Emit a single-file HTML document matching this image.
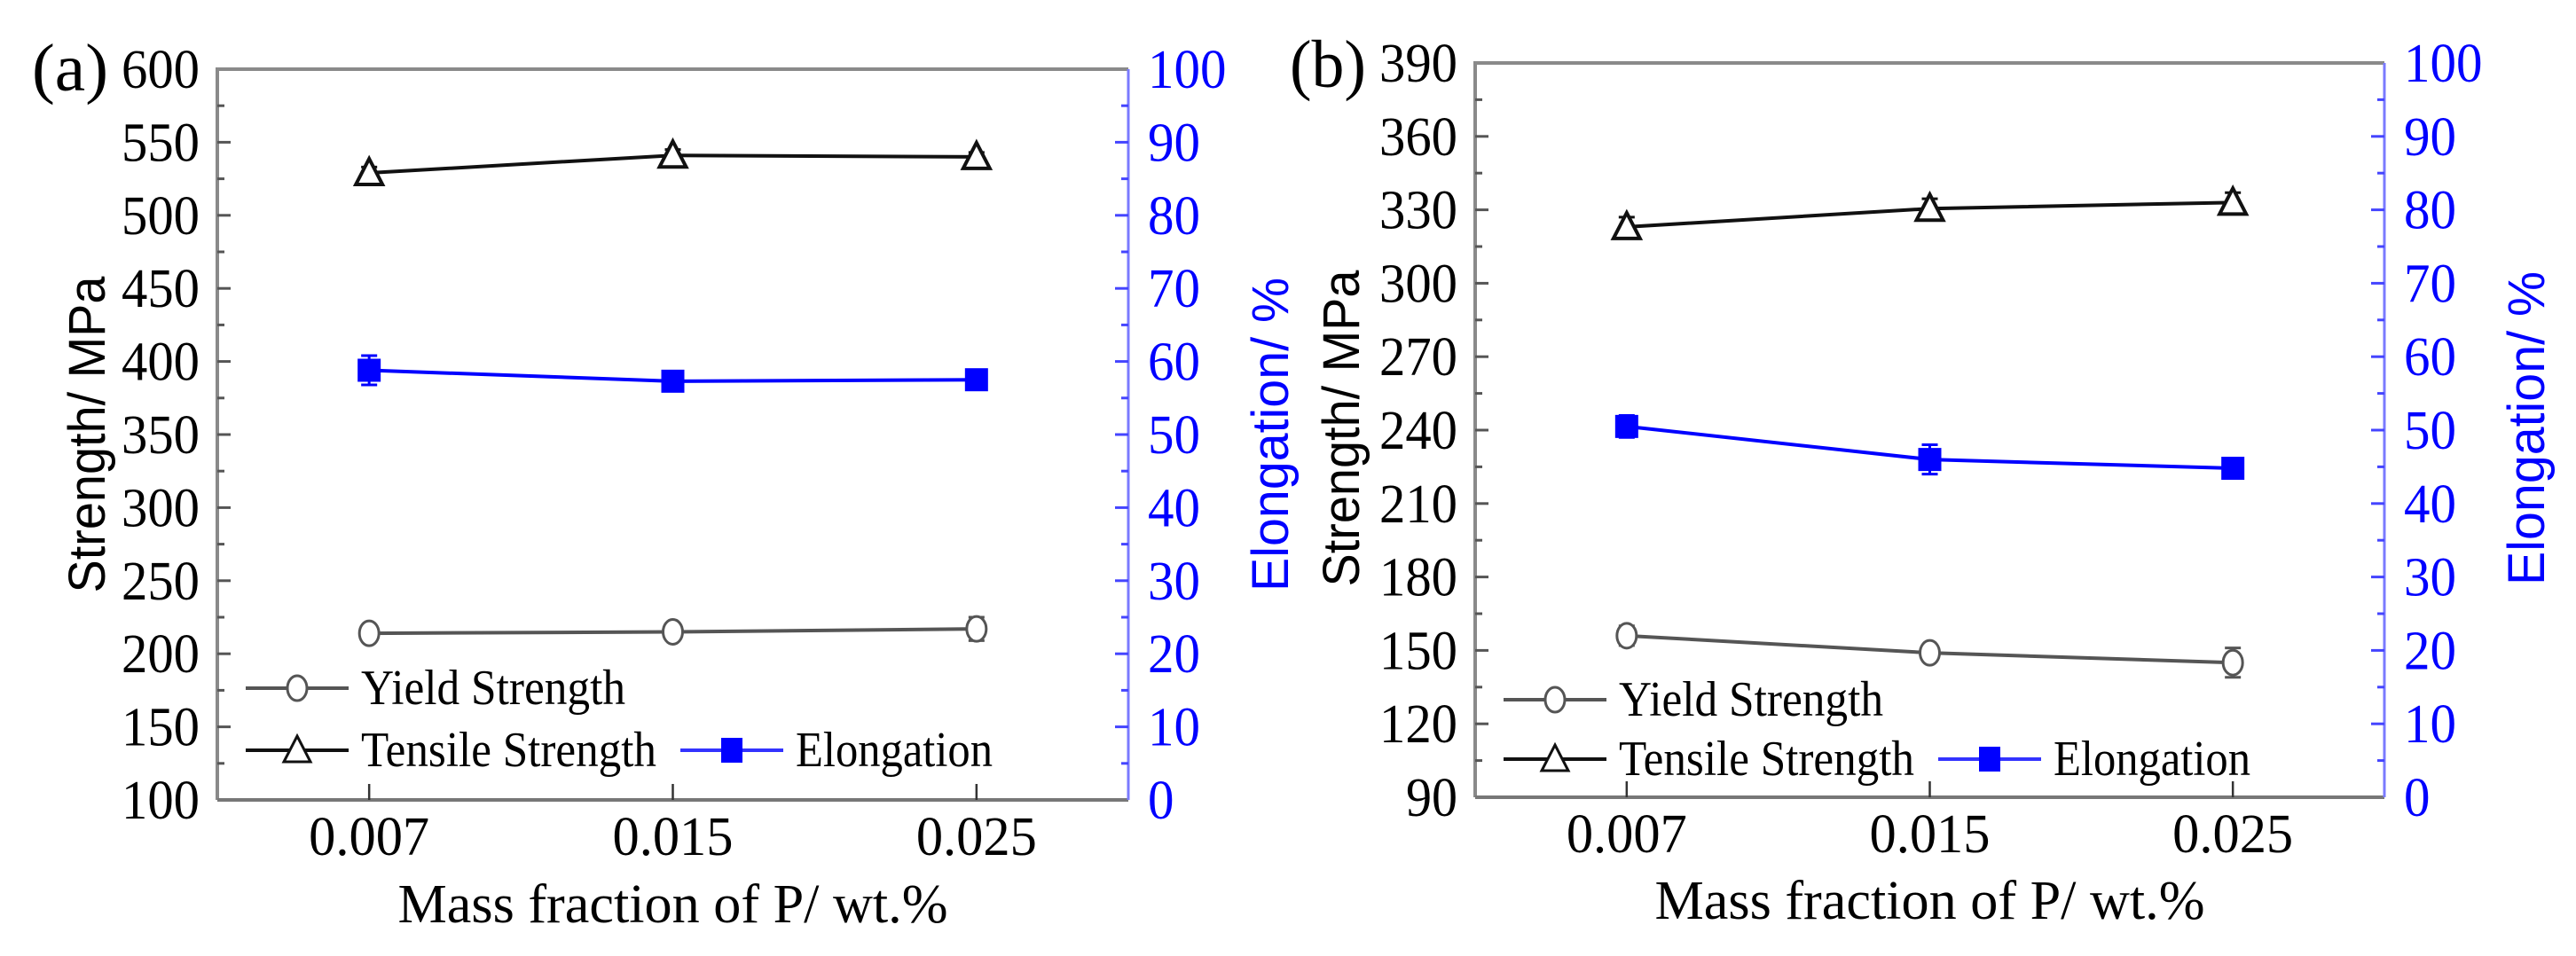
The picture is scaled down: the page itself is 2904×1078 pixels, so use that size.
<!DOCTYPE html>
<html><head><meta charset="utf-8"><style>
html,body{margin:0;padding:0;background:#fff}
svg{display:block}
text{font-family:"Liberation Serif",serif}
text.sans{font-family:"Liberation Sans",sans-serif}
</style></head><body>
<svg id="chart" width="2904" height="1078" viewBox="0 0 2904 1078" xmlns="http://www.w3.org/2000/svg"></svg>
<script>
const categories = ["0.007","0.015","0.025"];
// panel a
const aYield = [214, 215, 217];
const aYieldErr = [3, 3, 8];
const aTensile = [529, 541, 540];
const aTensileErr = [4, 4, 3];
const aElong = [58.8, 57.3, 57.5];
const aElongErr = [2, 0.5, 0.5];
const aLeftTicks = [100,150,200,250,300,350,400,450,500,550,600];
// panel b
const bYield = [156, 149, 145];
const bYieldErr = [4, 3, 6];
const bTensile = [323, 330.5, 333];
const bTensileErr = [4, 4, 4];
const bElong = [50.5, 46, 44.8];
const bElongErr = [1.5, 2, 1];
const bLeftTicks = [90,120,150,180,210,240,270,300,330,360,390];
const rightTicks = [0,10,20,30,40,50,60,70,80,90,100];

const NS = "http://www.w3.org/2000/svg";
const svg = document.getElementById("chart");
function mk(tag, attrs, parent){
  const e = document.createElementNS(NS, tag);
  for (const k in attrs) e.setAttribute(k, attrs[k]);
  (parent||svg).appendChild(e);
  return e;
}

function panel(cfg){
  const g = mk("g", {});
  
  
  const L=cfg.left, R=cfg.right, T=cfg.top, B=cfg.bottom;
  const lmin=cfg.lt[0], lmax=cfg.lt[cfg.lt.length-1];
  const yL = v => B - (v-lmin)/(lmax-lmin)*(B-T);
  const yR = v => B - v/100*(B-T);
  const xS = i => L + (i+0.5)/3*(R-L);

  const ax = mk("path",{d:`M${L},${B} L${L},${T} L${R},${T}`,fill:"none",stroke:"#8a8a8a","stroke-width":4},g);
  
  
  const bx = mk("line",{x1:L,y1:B,x2:R,y2:B,stroke:"#777","stroke-width":4},g);
  
  
  const rx = mk("line",{x1:R,y1:T,x2:R,y2:B,stroke:"#7a7aff","stroke-width":3},g);
  
  

  cfg.lt.forEach((v,i)=>{
    const y=yL(v);
    if(i>0 && i<cfg.lt.length-1) mk("line",{x1:L,y1:y,x2:L+15,y2:y,stroke:"#555","stroke-width":3},g);
    if(i<cfg.lt.length-1){const ym=yL((v+cfg.lt[i+1])/2); mk("line",{x1:L,y1:ym,x2:L+8,y2:ym,stroke:"#555","stroke-width":3},g);}
    const t=mk("text",{x:L-20,y:y+21,"font-size":62,"text-anchor":"end",fill:"#000",textLength:88,lengthAdjust:"spacingAndGlyphs"},g);
    if(String(v).length<3){t.setAttribute("textLength",58);}
    t.textContent=v;
    
    
  });
  rightTicks.forEach((v,i)=>{
    const y=yR(v);
    if(i>0 && i<rightTicks.length-1) mk("line",{x1:R,y1:y,x2:R-15,y2:y,stroke:"#4444ff","stroke-width":3},g);
    if(i<rightTicks.length-1){const ym=yR(v+5); mk("line",{x1:R,y1:ym,x2:R-8,y2:ym,stroke:"#4444ff","stroke-width":3},g);}
    const s=String(v);
    const t=mk("text",{x:R+22,y:y+21,"font-size":62,fill:"#0000ff",textLength:s.length*29.5,lengthAdjust:"spacingAndGlyphs"},g);
    t.textContent=s;
    
    
  });
  categories.forEach((c,i)=>{
    const x=xS(i);
    mk("line",{x1:x,y1:B,x2:x,y2:B-18,stroke:"#333","stroke-width":2.5},g);
    const t=mk("text",{x:x,y:B+62,"font-size":62,"text-anchor":"middle",fill:"#000",textLength:136,lengthAdjust:"spacingAndGlyphs"},g);
    t.textContent=c;
    
    
  });

  const xt=mk("text",{x:(L+R)/2,y:cfg.xTitleY,"font-size":62,"text-anchor":"middle",fill:"#000",textLength:620,lengthAdjust:"spacingAndGlyphs"},g);
  xt.textContent="Mass fraction of P/ wt.%";
  
  
  const yt=mk("text",{x:0,y:0,"class":"sans","font-size":58,"text-anchor":"middle",fill:"#000",textLength:357,lengthAdjust:"spacingAndGlyphs",transform:`translate(${cfg.yTitleX},${cfg.yTitleY}) rotate(-90)`},g);
  yt.textContent="Strength/ MPa";
  
  
  const rt=mk("text",{x:0,y:0,"class":"sans","font-size":58,"text-anchor":"middle",fill:"#0000ff",textLength:354,lengthAdjust:"spacingAndGlyphs",transform:`translate(${cfg.rTitleX},${cfg.yTitleY}) rotate(-90)`},g);
  rt.textContent="Elongation/ %";
  
  
  const pl=mk("text",{x:cfg.labelX,y:cfg.labelY,"font-size":76,fill:"#000",textLength:86,lengthAdjust:"spacingAndGlyphs"},g);
  pl.textContent=cfg.label;
  
  

  function series(vals, errs, yf, color, marker, name){
    const sg=mk("g",{},g);
    
    
    const pts=vals.map((v,i)=>`${xS(i)},${yf(v)}`).join(" ");
    mk("polyline",{points:pts,fill:"none",stroke:color,"stroke-width":4},sg);
    vals.forEach((v,i)=>{
      const x=xS(i), y=yf(v), y1=yf(v+errs[i]), y2=yf(v-errs[i]);
      mk("line",{x1:x,y1:y1,x2:x,y2:y2,stroke:color,"stroke-width":3},sg);
      mk("line",{x1:x-9,y1:y1,x2:x+9,y2:y1,stroke:color,"stroke-width":3},sg);
      mk("line",{x1:x-9,y1:y2,x2:x+9,y2:y2,stroke:color,"stroke-width":3},sg);
      let m;
      if(marker==="circle") m=mk("ellipse",{cx:x,cy:y,rx:11,ry:14,fill:"#fff",stroke:"#555","stroke-width":3},sg);
      else if(marker==="tri") m=mk("path",{d:`M${x},${y-16} L${x+15},${y+13} L${x-15},${y+13} Z`,fill:"#fff",stroke:"#111","stroke-width":4},sg);
      else m=mk("rect",{x:x-13,y:y-13,width:26,height:26,fill:"#0000ff"},sg);
      
      
    });
  }
  series(cfg.yield, cfg.yieldErr, yL, "#555", "circle", "yield-strength-series");
  series(cfg.tensile, cfg.tensileErr, yL, "#111", "tri", "tensile-strength-series");
  series(cfg.elong, cfg.elongErr, yR, "#0000ff", "square", "elongation-series");

  const lg=mk("g",{},g);
  
  
  const lx=L+32, r1=cfg.legY1, r2=cfg.legY2;
  function entry(x,y,color,marker,label,w,name){
    const eg=mk("g",{},lg);
    
    
    mk("line",{x1:x,y1:y,x2:x+116,y2:y,stroke:color,"stroke-width":4},eg);
    const cx=x+58;
    if(marker==="circle") mk("ellipse",{cx:cx,cy:y,rx:11,ry:14,fill:"#fff",stroke:"#555","stroke-width":3},eg);
    else if(marker==="tri") mk("path",{d:`M${cx},${y-16} L${cx+15},${y+13} L${cx-15},${y+13} Z`,fill:"#fff",stroke:"#111","stroke-width":3},eg);
    else mk("rect",{x:cx-12,y:y-14,width:24,height:28,fill:"#0000ff"},eg);
    const t=mk("text",{x:x+130,y:y+18,"font-size":56,fill:"#000",textLength:w,lengthAdjust:"spacingAndGlyphs"},eg);
    t.textContent=label;
  }
  entry(lx,r1,"#555","circle","Yield Strength",298,"legend-yield-strength");
  entry(lx,r2,"#111","tri","Tensile Strength",333,"legend-tensile-strength");
  entry(lx+490,r2,"#3333ff","square","Elongation",222,"legend-elongation");
}

panel({name:"panel-a",label:"(a)",left:245,right:1272,top:78,bottom:902,lt:aLeftTicks,
  yield:aYield,yieldErr:aYieldErr,tensile:aTensile,tensileErr:aTensileErr,elong:aElong,elongErr:aElongErr,
  xTitleY:1040,yTitleX:118,yTitleY:490,rTitleX:1452,labelX:36,labelY:102,legY1:776,legY2:846});
panel({name:"panel-b",label:"(b)",left:1663,right:2688,top:71,bottom:899,lt:bLeftTicks,
  yield:bYield,yieldErr:bYieldErr,tensile:bTensile,tensileErr:bTensileErr,elong:bElong,elongErr:bElongErr,
  xTitleY:1036,yTitleX:1532,yTitleY:483,rTitleX:2868,labelX:1454,labelY:98,legY1:789,legY2:856});
</script>
</body></html>
